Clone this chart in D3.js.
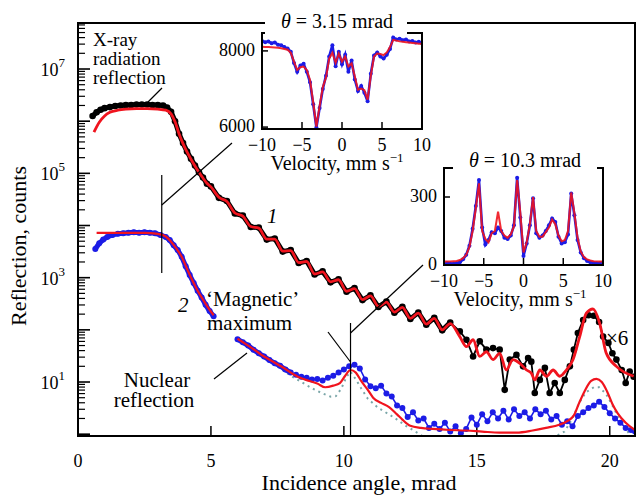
<!DOCTYPE html>
<meta charset="utf-8">
<body style="margin:0;background:#fff">
<script src="https://d3js.org/d3.v7.min.js"></script>
<script>

// ---- main plot data (angle in mrad, counts as log10) ----
var xrayAngle = [0.55,0.7,0.85,1.0,1.2,1.4,1.6,1.8,2.0,2.2,2.4,2.6,2.8,3.0,3.2,3.35,3.5,3.65,3.8,3.95,
  4.1,4.25,4.4,4.55,4.7,4.85,5.0,5.3,5.6,5.9,6.2,6.5,6.8,7.1,7.4,7.7,8.0,8.3,8.6,8.9,
  9.2,9.5,9.8,10.1,10.4,10.7,11.0,11.3,11.6,11.9,12.2,12.5,12.8,13.1,13.4,13.7,14.0,14.36,14.61,14.86,
  15.11,15.36,15.61,15.86,16.05,16.24,16.49,16.74,16.93,17.05,17.18,17.37,17.56,17.74,17.93,18.12,18.31,18.5,18.65,18.8,
  19.0,19.2,19.4,19.6,19.75,19.95,20.1,20.25,20.45,20.6,20.75,20.9];
var xrayLog = [6.10,6.17,6.22,6.25,6.27,6.29,6.30,6.31,6.31,6.32,6.32,6.32,6.31,6.31,6.30,6.26,6.18,6.00,5.76,5.58,
  5.42,5.28,5.15,5.02,4.92,4.80,4.75,4.53,4.47,4.23,4.19,3.97,3.96,3.73,3.75,3.50,3.53,3.28,3.32,3.06,
  3.12,2.91,2.97,2.73,2.80,2.57,2.66,2.44,2.54,2.33,2.44,2.21,2.33,2.10,2.23,1.99,2.14,1.97,1.81,1.49,
  1.78,1.62,1.65,1.62,0.85,1.43,1.52,1.30,1.46,1.39,0.79,1.04,1.27,0.79,0.98,0.79,1.04,1.30,1.62,1.94,
  2.19,2.28,2.27,2.15,1.87,1.75,1.55,1.43,1.23,0.98,1.20,1.10];

var xrayFitAngle = [0.6,0.8,1.0,1.2,1.5,1.8,2.2,2.6,3.0,3.3,3.5,3.65,3.8,3.95,4.1,4.25,4.4,4.55,4.7,4.85,
  5.0,5.3,5.6,5.9,6.2,6.5,6.8,7.1,7.4,7.7,8.0,8.3,8.6,8.9,9.2,9.5,9.8,10.1,10.4,10.7,
  11.0,11.3,11.6,11.9,12.2,12.5,12.8,13.1,13.4,13.7,14.0,14.36,14.61,14.86,15.11,15.36,15.61,15.86,16.11,16.36,
  16.61,16.87,17.05,17.18,17.37,17.62,17.87,18.12,18.37,18.62,18.87,19.12,19.37,19.62,19.87,20.25,20.9];
var xrayFitLog = [5.79,5.98,6.10,6.17,6.21,6.23,6.24,6.24,6.23,6.21,6.14,5.99,5.76,5.57,5.41,5.27,5.14,5.02,4.91,4.81,
  4.74,4.54,4.46,4.24,4.18,3.98,3.95,3.74,3.74,3.51,3.52,3.29,3.31,3.07,3.11,2.92,2.96,2.74,2.79,2.58,
  2.65,2.45,2.53,2.34,2.43,2.22,2.32,2.11,2.22,2.00,2.12,1.87,1.68,1.81,1.49,1.58,1.43,1.55,1.23,1.43,
  1.36,1.23,1.17,1.04,1.23,1.11,1.23,1.11,1.23,1.43,1.87,2.32,2.40,2.13,1.55,1.30,1.11];

var nuclearAngle = [0.65,0.8,0.95,1.1,1.3,1.5,1.7,1.9,2.1,2.3,2.5,2.7,2.9,3.1,3.3,3.45,3.6,3.75,3.9,4.05,
  4.2,4.35,4.5,4.65,4.8,4.95,5.1,6.0,6.2,6.4,6.6,6.8,7.0,7.2,7.4,7.6,7.8,8.0,8.2,8.4,
  8.6,8.8,9.0,9.2,9.4,9.6,9.8,10.0,10.2,10.4,10.6,10.8,11.0,11.2,11.4,11.6,11.8,12.0,12.2,12.4,
  12.6,12.8,13.0,13.2,13.4,13.6,13.8,14.0,14.2,14.4,14.6,14.8,15.0,15.2,15.4,15.6,15.8,16.0,16.2,16.4,
  16.6,16.8,17.0,17.2,17.4,17.6,17.8,18.0,18.2,18.4,18.6,18.8,19.0,19.2,19.4,19.6,19.8,20.0,20.2,20.4,
  20.6,20.8,20.95];
var nuclearLog = [3.55,3.66,3.73,3.78,3.82,3.84,3.85,3.86,3.87,3.86,3.87,3.86,3.85,3.82,3.78,3.72,3.62,3.53,3.40,3.22,
  3.05,2.90,2.75,2.62,2.48,2.36,2.26,1.82,1.76,1.70,1.62,1.55,1.49,1.42,1.36,1.31,1.24,1.18,1.14,1.10,
  1.08,1.05,1.06,1.03,1.08,1.12,1.18,1.24,1.30,1.33,1.26,1.05,0.92,0.88,0.93,0.78,0.72,0.55,0.50,0.33,
  0.42,0.26,0.30,0.12,0.20,0.10,0.22,0.05,0.15,0.02,0.10,0.32,0.18,0.38,0.25,0.42,0.30,0.45,0.28,0.48,
  0.35,0.42,0.30,0.48,0.38,0.45,0.28,0.35,0.18,0.25,0.15,0.35,0.42,0.50,0.55,0.62,0.52,0.40,0.30,0.22,
  0.12,0.08,0.05];

var nuclearFitAngle = [0.7,1.0,1.5,2.0,2.5,3.0,3.3,3.5,3.7,3.9,4.1,4.3,4.5,4.7,4.9,5.1,6.0,6.3,6.6,6.9,
  7.2,7.5,7.8,8.1,8.4,8.7,9.0,9.3,9.6,9.85,10.05,10.25,10.45,10.65,10.9,11.1,11.4,11.7,12.0,12.2,
  12.5,12.9,13.35,14.0,14.6,15.2,15.86,16.5,17.1,17.6,18.1,18.4,18.65,18.85,19.05,19.3,19.5,19.7,19.9,20.1,
  20.3,20.6,20.95];
var nuclearFitLog = [3.86,3.86,3.86,3.86,3.86,3.84,3.79,3.69,3.56,3.40,3.17,2.95,2.75,2.58,2.42,2.28,1.83,1.73,1.63,1.52,
  1.43,1.34,1.25,1.15,1.07,1.02,0.97,0.90,0.93,0.98,1.12,1.23,1.18,1.02,0.85,0.70,0.60,0.52,0.38,0.28,
  0.16,0.12,0.10,0.08,0.07,0.05,0.03,0.03,0.07,0.12,0.18,0.25,0.36,0.60,0.82,1.02,1.06,1.00,0.82,0.58,
  0.40,0.22,0.08];

var dottedAngle = [7.5,8.0,8.4,8.8,9.2,9.5,9.7,9.9,10.1,10.25,10.45,10.65,10.9,11.3,11.7,12.0,12.3,12.6,13.0,14.0,
  17.0,18.3,18.6,18.85,19.1,19.4,19.6,19.85,20.1,20.35,20.6,20.9];
var dottedLog = [1.30,1.12,1.00,0.88,0.78,0.72,0.73,0.87,1.10,1.20,1.05,0.88,0.68,0.50,0.38,0.28,0.17,0.08,-0.05,-0.3,
  -0.3,0.05,0.30,0.60,0.80,0.90,0.90,0.78,0.55,0.30,0.10,-0.10];

var xTicks = [0, 5, 10, 15, 20];
var yLabelExp = [1, 3, 5, 7];

// ---- inset data (velocity in mm/s) ----
var velocity = [-10,-9.6,-9.2,-8.8,-8.4,-8,-7.6,-7.2,-6.8,-6.4,-6,-5.6,-5.2,-4.8,-4.4,-4,-3.6,-3.2,-2.8,-2.4,
  -2,-1.6,-1.2,-0.8,-0.4,0,0.4,0.8,1.2,1.6,2,2.4,2.8,3.2,3.6,4,4.4,4.8,5.2,5.6,
  6,6.4,6.8,7.2,7.6,8,8.4,8.8,9.2,9.6,10];
var spec315 = [8260,8230,8250,8200,8220,8160,8150,8100,8060,7980,7680,7450,7620,7660,7450,7180,6600,5990,6500,7000,
  7350,7850,8150,7600,7980,7650,7900,7450,7750,7250,6950,7080,6900,6680,7400,7880,7960,7850,7800,7900,
  8050,8350,8300,8320,8280,8300,8250,8260,8220,8240,8200];
var fit315 = [8110,8105,8100,8095,8090,8080,8070,8050,8030,7950,7720,7500,7570,7590,7500,7240,6650,6010,6550,7050,
  7300,7800,7950,7690,7930,7720,7850,7590,7670,7330,6980,7010,6970,6720,7350,7850,7930,7920,7890,7960,
  8100,8290,8270,8250,8240,8230,8220,8210,8200,8190,8185];
var spec103 = [5,8,5,6,8,12,25,45,85,160,260,375,165,90,110,145,140,165,150,120,
  115,130,175,385,210,40,95,175,295,140,120,130,150,175,205,190,125,95,100,135,
  315,220,110,55,30,18,12,10,8,8,10];
var fit103 = [15,15,16,17,18,22,30,45,80,150,250,360,150,115,100,140,150,235,150,130,
  120,135,170,375,230,55,100,180,300,150,125,125,145,165,200,180,130,105,110,150,
  320,230,120,60,35,25,20,17,16,15,15];
var velTicks = [-10, -5, 0, 5, 10];

var RED = "#f0141e", BLUE = "#1c1ce6", TEAL = "#7aa6a8";

function pairs(xs, ys) { return xs.map(function(d, i) { return [d, ys[i]]; }); }
// split a series where the measurement has a hole
function pieces(pts, gap) {
  var out = [[pts[0]]];
  for (var i = 1; i < pts.length; i++) {
    if (pts[i][0] - pts[i - 1][0] > gap) out.push([]);
    out[out.length - 1].push(pts[i]);
  }
  return out;
}
function fmt(v) { return v < 0 ? "\u2212" + (-v) : "" + v; }
// every text goes through here so it gets the serif face and its size inline
function txt(sel, size) {
  return sel.append("text")
      .style("font-family", "'Liberation Serif'")
      .style("font-size", size + "px");
}

var svg = d3.select("body").append("svg")
    .attr("width", 636)
    .attr("height", 495);

var margin = {top: 23, right: 1, bottom: 59, left: 78},
    width = 636 - margin.left - margin.right,
    height = 495 - margin.top - margin.bottom;

var x = d3.scaleLinear().domain([0, 20.95]).range([0, width]);
var y = d3.scaleLog().domain([Math.pow(10, -0.035), Math.pow(10, 7.882)]).range([height, 0]);
function yl(v) { return y(Math.pow(10, v)); }

var g = svg.append("g")
    .attr("transform", "translate(" + margin.left + "," + margin.top + ")");

g.append("clipPath").attr("id", "clipMain")
  .append("rect").attr("width", width).attr("height", height);

// y ticks, inward, major at decades
var yTickVals = [];
for (var k = 0; k <= 7; k++)
  for (var m = 1; m <= 9; m++) {
    var v = m * Math.pow(10, k);
    if (v >= y.domain()[0] && v <= y.domain()[1]) yTickVals.push({v: v, major: m === 1});
  }
g.selectAll(".ytick").data(yTickVals).enter().append("line")
    .attr("x1", 0)
    .attr("x2", function(d) { return d.major ? 12 : 7; })
    .attr("y1", function(d) { return y(d.v); })
    .attr("y2", function(d) { return y(d.v); })
    .attr("stroke", "#000")
    .attr("stroke-width", function(d) { return d.major ? 1.6 : 1.2; });

yLabelExp.forEach(function(e) {
  var t = txt(g, 18).attr("x", -13).attr("y", yl(e) + 7).attr("text-anchor", "end");
  t.append("tspan").text("10");
  t.append("tspan").attr("dy", -9).style("font-size", "13px").text(e);
});

// x ticks, inward
g.selectAll(".xtick").data(xTicks.filter(function(d) { return d > 0; })).enter().append("line")
    .attr("x1", function(d) { return x(d); })
    .attr("x2", function(d) { return x(d); })
    .attr("y1", height)
    .attr("y2", height - 10)
    .attr("stroke", "#000")
    .attr("stroke-width", 1.5);
xTicks.forEach(function(d) {
  txt(g, 18).attr("x", x(d)).attr("y", height + 31).attr("text-anchor", "middle").text(d);
});

// axis titles
txt(svg, 22).attr("x", 359).attr("y", 490).attr("text-anchor", "middle")
    .text("Incidence angle, mrad");
txt(svg, 22).attr("transform", "translate(26,246) rotate(-90)").attr("text-anchor", "middle")
    .text("Reflection, counts");

// curves
var plot = g.append("g").attr("clip-path", "url(#clipMain)");
var dataLine = d3.line().x(function(d) { return x(d[0]); }).y(function(d) { return yl(d[1]); });
var fitLine = d3.line().curve(d3.curveMonotoneX)
    .x(function(d) { return x(d[0]); }).y(function(d) { return yl(d[1]); });

plot.append("path")
    .attr("d", dataLine(pairs(dottedAngle, dottedLog)))
    .attr("fill", "none").attr("stroke", TEAL).attr("stroke-width", 2)
    .attr("stroke-dasharray", "2,4");

// x-ray data: points are so dense below 14 mrad that they merge into a band
var xray = pairs(xrayAngle, xrayLog);
plot.append("path").attr("d", dataLine(xray.filter(function(d) { return d[0] <= 14; })))
    .attr("fill", "none").attr("stroke", "#000").attr("stroke-width", 5).attr("stroke-linejoin", "round");
plot.append("path").attr("d", dataLine(xray))
    .attr("fill", "none").attr("stroke", "#000").attr("stroke-width", 1.8);
plot.selectAll(".xdot").data(xray).enter().append("circle")
    .attr("cx", function(d) { return x(d[0]); })
    .attr("cy", function(d) { return yl(d[1]); })
    .attr("r", 3.3).attr("fill", "#000");
plot.append("path").attr("d", fitLine(pairs(xrayFitAngle, xrayFitLog)))
    .attr("fill", "none").attr("stroke", RED).attr("stroke-width", 2.8);

var nuc = pairs(nuclearAngle, nuclearLog);
pieces(nuc.filter(function(d) { return d[0] <= 8; }), 0.8).forEach(function(p) {
  plot.append("path").attr("d", dataLine(p))
      .attr("fill", "none").attr("stroke", BLUE).attr("stroke-width", 5).attr("stroke-linejoin", "round");
});
pieces(nuc, 0.8).forEach(function(p) {
  plot.append("path").attr("d", dataLine(p))
      .attr("fill", "none").attr("stroke", BLUE).attr("stroke-width", 1.6);
});
plot.selectAll(".ndot").data(nuc).enter().append("circle")
    .attr("cx", function(d) { return x(d[0]); })
    .attr("cy", function(d) { return yl(d[1]); })
    .attr("r", 3).attr("fill", BLUE);
pieces(pairs(nuclearFitAngle, nuclearFitLog), 0.8).forEach(function(p) {
  plot.append("path").attr("d", fitLine(p))
      .attr("fill", "none").attr("stroke", RED).attr("stroke-width", 2.2);
});

g.append("rect").attr("width", width).attr("height", height)
    .attr("fill", "none").attr("stroke", "#000").attr("stroke-width", 2);

// ---- insets ----
function inset(opt) {
  var ig = svg.append("g").attr("transform", "translate(" + opt.left + "," + opt.top + ")");
  var ix = d3.scaleLinear().domain([-10, 10]).range([0, opt.w]);
  var iy = d3.scaleLinear().domain(opt.yDomain).range([opt.h, 0]);
  ig.append("rect").attr("width", opt.w).attr("height", opt.h).attr("fill", "#fff");
  ig.append("clipPath").attr("id", opt.id)
    .append("rect").attr("width", opt.w).attr("height", opt.h);
  var c = ig.append("g").attr("clip-path", "url(#" + opt.id + ")");
  var spec = pairs(velocity, opt.spec), fit = pairs(velocity, opt.fit);
  var line = d3.line().x(function(d) { return ix(d[0]); }).y(function(d) { return iy(d[1]); });
  c.append("path").attr("d", line(spec))
      .attr("fill", "none").attr("stroke", BLUE).attr("stroke-width", 2.6);
  c.selectAll("circle").data(spec).enter().append("circle")
      .attr("cx", function(d) { return ix(d[0]); })
      .attr("cy", function(d) { return iy(d[1]); })
      .attr("r", 2).attr("fill", BLUE);
  c.append("path").attr("d", line(fit))
      .attr("fill", "none").attr("stroke", RED).attr("stroke-width", 2).attr("stroke-opacity", 0.9);
  ig.append("rect").attr("width", opt.w).attr("height", opt.h)
      .attr("fill", "none").attr("stroke", "#000").attr("stroke-width", 2);

  ig.selectAll(".vt").data([-5, 0, 5]).enter().append("line")
      .attr("x1", function(d) { return ix(d); }).attr("x2", function(d) { return ix(d); })
      .attr("y1", opt.h).attr("y2", opt.h - 7)
      .attr("stroke", "#000").attr("stroke-width", 1.5);
  velTicks.forEach(function(d) {
    txt(ig, 18).attr("x", ix(d)).attr("y", opt.h + 22).attr("text-anchor", "middle").text(fmt(d));
  });
  ig.selectAll(".ct").data(opt.yTicks).enter().append("line")
      .attr("x1", 0).attr("x2", 6)
      .attr("y1", function(d) { return iy(d); }).attr("y2", function(d) { return iy(d); })
      .attr("stroke", "#000").attr("stroke-width", 1.5);
  opt.yTicks.forEach(function(d) {
    txt(ig, 18).attr("x", -7).attr("y", iy(d) + 5).attr("text-anchor", "end").text(d);
  });
  var vt = txt(ig, 20).attr("x", opt.labelX).attr("y", opt.h + 41).attr("text-anchor", "middle");
  vt.append("tspan").text("Velocity, mm s");
  vt.append("tspan").attr("dy", -8).style("font-size", "13px").text("\u22121");
}

inset({id: "clipI1", left: 262, top: 33, w: 160, h: 96, yDomain: [5950, 8470],
       yTicks: [6000, 8000], spec: spec315, fit: fit315, labelX: 75});
inset({id: "clipI2", left: 444, top: 168, w: 159, h: 97, yDomain: [0, 428],
       yTicks: [0, 300], spec: spec103, fit: fit103, labelX: 76});

// inset titles on white patches
function title(x0, x1, y0, y1, cx, by, val) {
  svg.append("rect").attr("x", x0).attr("y", y0).attr("width", x1 - x0).attr("height", y1 - y0).attr("fill", "#fff");
  var t = txt(svg, 20).attr("x", cx).attr("y", by).attr("text-anchor", "middle");
  t.append("tspan").style("font-style", "italic").text("\u03b8");
  t.append("tspan").text(" = " + val + " mrad");
}
title(265, 407, 11, 34.5, 337, 28, "3.15");
title(453, 597, 149, 170, 525, 167, "10.3");

// ---- annotations ----
var ox = margin.left;
var leads = [
  [162, 88, 148, 102],
  [ox + x(3.15), 175, ox + x(3.15), 273],
  [ox + x(3.15), 205, 232, 143],
  [214, 379, 247, 353],
  [ox + x(10.25), 323, ox + x(10.25), 436],
  [ox + x(10.25), 333, 423, 265],
  [328, 332, ox + x(10.25), 362]
];
svg.selectAll(".lead").data(leads).enter().append("line")
    .attr("stroke", "#000").attr("stroke-width", 1.2)
    .attr("x1", function(d) { return d[0]; }).attr("y1", function(d) { return d[1]; })
    .attr("x2", function(d) { return d[2]; }).attr("y2", function(d) { return d[3]; });

function note(s, x0, y0, size, anchor, italic) {
  txt(svg, size).attr("x", x0).attr("y", y0)
      .attr("text-anchor", anchor || "start")
      .style("font-style", italic ? "italic" : "normal")
      .text(s);
}
note("X-ray", 93, 46, 19);
note("radiation", 93, 65, 19);
note("reflection", 93, 84, 19);
note("1", 267, 223, 21, "start", true);
note("2", 178, 312, 21, "start", true);
note("\u2018Magnetic\u2019", 206, 306, 21);
note("maximum", 207, 330, 21);
note("Nuclear", 157, 387, 21, "middle");
note("reflection", 154, 407, 21, "middle");
note("\u00d76", 606, 345, 21);

</script>
</body>
